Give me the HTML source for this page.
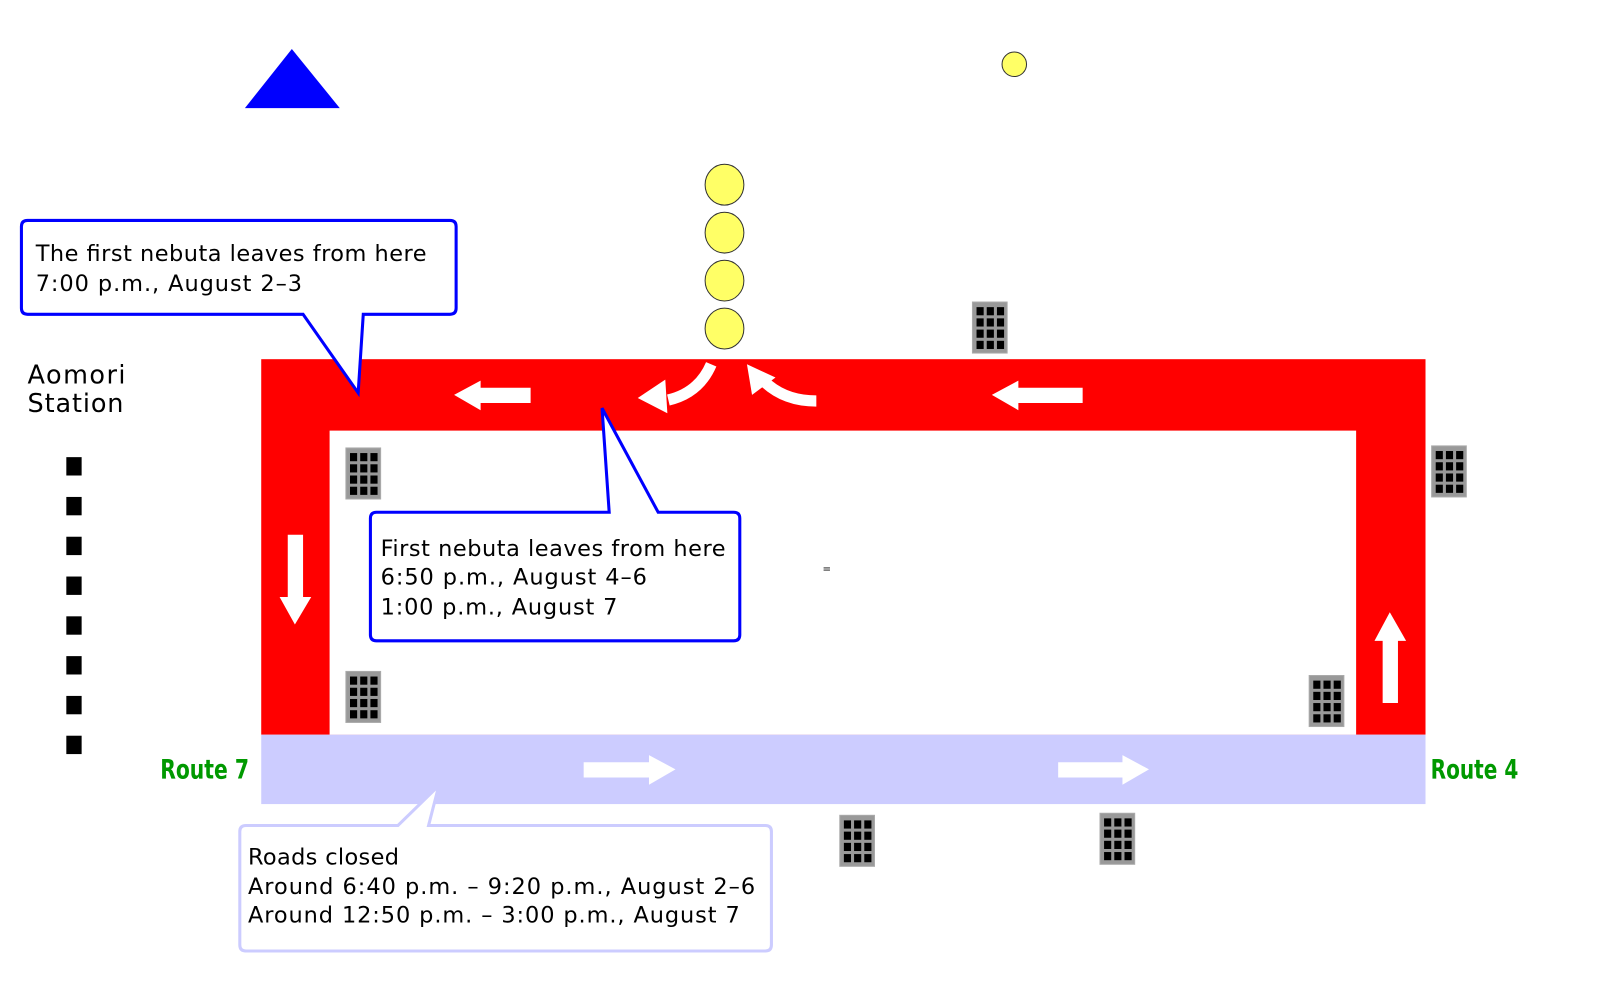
<!DOCTYPE html>
<html><head><meta charset="utf-8"><style>html,body{margin:0;padding:0;background:#fff}svg{display:block}</style></head>
<body>
<svg width="1600" height="1000" viewBox="0 0 1568 980" preserveAspectRatio="none" xmlns="http://www.w3.org/2000/svg" font-family="DejaVu Sans, Liberation Sans, sans-serif">
<defs>
<g id="bld">
<rect x="0" y="0" width="34" height="50" fill="#999" stroke="#aaa"/>
<g fill="#000">
<rect x="4" y="5" width="7" height="8"/><rect x="14" y="5" width="7" height="8"/><rect x="24" y="5" width="7" height="8"/>
<rect x="4" y="16" width="7" height="8"/><rect x="14" y="16" width="7" height="8"/><rect x="24" y="16" width="7" height="8"/>
<rect x="4" y="27" width="7" height="8"/><rect x="14" y="27" width="7" height="8"/><rect x="24" y="27" width="7" height="8"/>
<rect x="4" y="38" width="7" height="8"/><rect x="14" y="38" width="7" height="8"/><rect x="24" y="38" width="7" height="8"/>
</g></g>
</defs>
<polygon points="240,106 286,48 333,106" fill="#0000ff"/>
<circle cx="994" cy="63" r="12" fill="#ffff66" stroke="#333"/>
<g fill="#ffff66" stroke="#333"><ellipse cx="710" cy="181" rx="19" ry="20"/><ellipse cx="710" cy="228" rx="19" ry="20"/><ellipse cx="710" cy="275" rx="19" ry="20"/><ellipse cx="710" cy="322" rx="19" ry="20"/></g>
<rect x="256" y="352" width="1141" height="368" fill="#ff0000"/>
<rect x="323" y="422" width="1006" height="298" fill="#fff"/>
<rect x="256" y="720" width="1141" height="68" fill="#ccccff"/>
<g fill="#fff">
<polygon points="445,387 471,373 471,380 520,380 520,395 471,395 471,402"/>
<polygon points="972,387 998,373 998,380 1061,380 1061,395 998,395 998,402"/>
<polygon points="274,585 282,585 282,524 297,524 297,585 305,585 289,612"/>
<polygon points="1347,628 1355,628 1355,689 1370,689 1370,628 1378,628 1362,600"/>
<polygon points="662,754 636,740 636,747 572,747 572,762 636,762 636,769"/>
<polygon points="1126,754 1100,740 1100,747 1037,747 1037,762 1100,762 1100,769"/>
</g>
<path d="M697,357 Q685,385 655,392" stroke="#fff" stroke-width="11" fill="none"/>
<polygon points="625,390 652,372 654,405" fill="#fff"/>
<path d="M800,393 Q768,393 748,373" stroke="#fff" stroke-width="11" fill="none"/>
<polygon points="732,357 737,387 760,370" fill="#fff"/>
<use href="#bld" x="339" y="439"/><use href="#bld" x="339" y="658"/><use href="#bld" x="953" y="296"/><use href="#bld" x="1403" y="437"/><use href="#bld" x="1283" y="662"/><use href="#bld" x="823" y="799"/><use href="#bld" x="1078" y="797"/>
<g fill="#000"><rect x="65" y="448" width="15" height="18"/><rect x="65" y="487" width="15" height="18"/><rect x="65" y="526" width="15" height="18"/><rect x="65" y="565" width="15" height="18"/><rect x="65" y="604" width="15" height="18"/><rect x="65" y="643" width="15" height="18"/><rect x="65" y="682" width="15" height="18"/><rect x="65" y="721" width="15" height="18"/></g>
<text x="27" y="376" font-size="25" fill="#000" textLength="96">Aomori</text>
<text x="27" y="404" font-size="25" fill="#000" textLength="94">Station</text>
<path d="M27,216 H441 Q447,216 447,222 V302 Q447,308 441,308 H356 L351,385 L297,308 H27 Q21,308 21,302 V222 Q21,216 27,216 Z" fill="#fff" stroke="#0000ff" stroke-width="3"/>
<text x="35" y="256" font-size="22" textLength="383">The first nebuta leaves from here</text>
<text x="35" y="285" font-size="22" textLength="261">7:00 p.m., August 2–3</text>
<path d="M369,502 H597 L590,400 L645,502 H719 Q725,502 725,508 V622 Q725,628 719,628 H369 Q363,628 363,622 V508 Q363,502 369,502 Z" fill="#fff" stroke="#0000ff" stroke-width="3"/>
<text x="373" y="545" font-size="22" textLength="338">First nebuta leaves from here</text>
<text x="373" y="573" font-size="22" textLength="261">6:50 p.m., August 4–6</text>
<text x="373" y="602" font-size="22" textLength="232">1:00 p.m., August 7</text>
<path d="M241,809 H390 L430,770 L420,809 H750 Q756,809 756,815 V926 Q756,932 750,932 H241 Q235,932 235,926 V815 Q235,809 241,809 Z" fill="#fff" stroke="#ccccff" stroke-width="3"/>
<text x="243" y="847" font-size="22" textLength="148">Roads closed</text>
<text x="243" y="876" font-size="22" textLength="497">Around 6:40 p.m. – 9:20 p.m., August 2–6</text>
<text x="243" y="904" font-size="22" textLength="482">Around 12:50 p.m. – 3:00 p.m., August 7</text>
<text x="157" y="763" font-size="26" font-weight="bold" fill="#009900" textLength="87" lengthAdjust="spacingAndGlyphs">Route 7</text>
<text x="1402" y="763" font-size="26" font-weight="bold" fill="#009900" textLength="86" lengthAdjust="spacingAndGlyphs">Route 4</text>
<text x="806" y="561" font-size="10">=</text>
</svg>
</body></html>
